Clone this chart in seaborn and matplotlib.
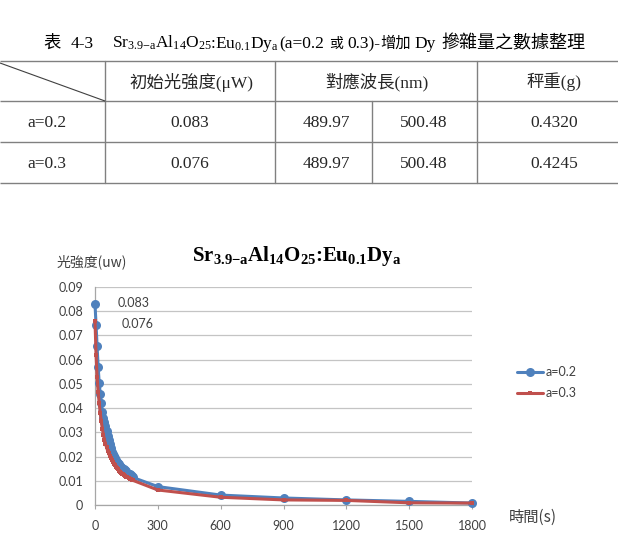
import matplotlib
matplotlib.use("Agg")
import matplotlib.pyplot as plt
import seaborn as sns
import pandas as pd
from matplotlib.lines import Line2D

# ---------------- data ----------------
time_s = [0, 5, 10, 15, 20, 25, 30, 35, 40, 45, 50, 55, 60, 65, 70, 75, 80, 85, 90,
          95, 100, 105, 110, 115, 120, 125, 130, 135, 140, 145, 150, 155, 160, 165,
          170, 175, 180, 300, 600, 900, 1200, 1500, 1800]
a02 = [0.083, 0.0745, 0.0655, 0.057, 0.0505, 0.046, 0.042, 0.0385, 0.036, 0.0342,
       0.0325, 0.0305, 0.0285, 0.0267, 0.025, 0.0235, 0.022, 0.021, 0.0201, 0.0193,
       0.0186, 0.0179, 0.0173, 0.0168, 0.0163, 0.0158, 0.0154, 0.015, 0.0147, 0.0143,
       0.0139, 0.0134, 0.013, 0.0126, 0.0122, 0.0118, 0.0114,
       0.0076, 0.0041, 0.0029, 0.0021, 0.0015, 0.0008]
a03 = [0.076, 0.062, 0.053, 0.0465, 0.042, 0.038, 0.0345, 0.0315, 0.029, 0.027,
       0.0253, 0.0238, 0.0225, 0.0213, 0.0203, 0.0193, 0.0185, 0.0177, 0.017, 0.0164,
       0.0158, 0.0152, 0.0147, 0.0142, 0.0137, 0.0133, 0.0129, 0.0126, 0.0123, 0.012,
       0.0117, 0.0114, 0.0111, 0.0108, 0.0106, 0.0104, 0.0102,
       0.0062, 0.0032, 0.0021, 0.0019, 0.0009, 0.0008]
series_names = ["a=0.2", "a=0.3"]
xticks = [0, 300, 600, 900, 1200, 1500, 1800]
yticks = [0, 0.01, 0.02, 0.03, 0.04, 0.05, 0.06, 0.07, 0.08, 0.09]
ytick_labels = ["0", "0.01", "0.02", "0.03", "0.04", "0.05", "0.06", "0.07", "0.08", "0.09"]
ylabel_text = "光強度(uw)"
xlabel_text = "時間(s)"

table_headers = ["初始光強度(μW)", "對應波長(nm)", "秤重(g)"]
table_row_labels = ["a=0.2", "a=0.3"]
table_initial = ["0.083", "0.076"]
table_wl1 = ["489.97", "489.97"]
table_wl2 = ["500.48", "500.48"]
table_weight = ["0.4320", "0.4245"]

# ---------------- style ----------------
sns.set_theme(style="white")
plt.rcParams["font.family"] = ["Lato", "Noto Sans CJK TC", "DejaVu Sans"]
plt.rcParams["mathtext.fontset"] = "custom"
plt.rcParams["mathtext.rm"] = "Liberation Serif"
plt.rcParams["mathtext.it"] = "Liberation Serif:italic"
plt.rcParams["mathtext.bf"] = "Liberation Serif:bold"
SERIF = ["Liberation Serif", "Noto Sans CJK TC", "DejaVu Sans"]
CJK = ["Noto Sans CJK TC", "DejaVu Sans"]
BLUE = "#4F81BD"
RED = "#C0504D"

W, H = 618, 549
fig = plt.figure(figsize=(W / 100, H / 100), dpi=100)
fig.patch.set_facecolor("white")

# chart axes (pixel box: x 95..472, y 287..505)
ax = fig.add_axes([95 / W, 1 - 505 / H, (472 - 95) / W, (505 - 287) / H])

df = pd.DataFrame({
    "t": time_s * 2,
    "v": a02 + a03,
    "series": [series_names[0]] * len(time_s) + [series_names[1]] * len(time_s),
})
sns.lineplot(data=df[df.series == series_names[0]], x="t", y="v", ax=ax, color=BLUE,
             marker="o", markersize=6.5, markeredgewidth=0, linewidth=2.2,
             errorbar=None, legend=False, clip_on=False, zorder=3)
sns.lineplot(data=df[df.series == series_names[1]], x="t", y="v", ax=ax, color=RED,
             marker="s", markersize=3.2, markeredgewidth=0, linewidth=2.2,
             errorbar=None, legend=False, clip_on=False, zorder=4)

ax.set_xlim(xticks[0], xticks[-1])
ax.set_ylim(yticks[0], yticks[-1])
ax.set_xticks(xticks)
ax.set_xticklabels([str(v) for v in xticks])
ax.set_yticks(yticks)
ax.set_yticklabels(ytick_labels)
ax.set_xlabel("")
ax.set_ylabel("")
ax.set_axisbelow(True)
ax.grid(axis="y", color="#C4C4C4", linewidth=0.9)
ax.grid(axis="x", visible=False)
for s in ["top", "right"]:
    ax.spines[s].set_visible(False)
for s in ["left", "bottom"]:
    ax.spines[s].set_color("#A6A6A6")
    ax.spines[s].set_linewidth(0.9)
ax.tick_params(axis="x", length=3, width=0.8, color="#A6A6A6", pad=8, labelsize=9,
               labelcolor="#404040", direction="out", bottom=True)
ax.tick_params(axis="y", length=0, pad=8.5, labelsize=9, labelcolor="#404040")

# data labels of the first points
ax.annotate(f"{a02[0]:.3f}", xy=(time_s[0], a02[0]), xytext=(23, 1),
            textcoords="offset pixels", va="center", ha="left", fontsize=9, color="#404040")
ax.annotate(f"{a03[0]:.3f}", xy=(time_s[0], a03[0]), xytext=(27, -3),
            textcoords="offset pixels", va="center", ha="left", fontsize=9, color="#404040")

# legend
handles = [Line2D([], [], color=BLUE, marker="o", markersize=6.5, markeredgewidth=0, lw=2.2),
           Line2D([], [], color=RED, marker="s", markersize=3.2, markeredgewidth=0, lw=2.2)]
fig.legend(handles, series_names, loc="center left",
           bbox_to_anchor=(517 / W, 1 - 382.5 / H), frameon=False, fontsize=9,
           handlelength=2.1, handletextpad=0.2, labelspacing=0.7, borderpad=0,
           borderaxespad=0, labelcolor="#404040")

# ---------------- overlay for table and titles (pixel coords) ----------------
ov = fig.add_axes([0, 0, 1, 1])
ov.set_xlim(0, W)
ov.set_ylim(H, 0)
ov.axis("off")
ov.patch.set_alpha(0)

renderer = fig.canvas.get_renderer()


def rich(segs, x, y):
    """segments: strings (with size, family, weight) or numeric gaps in px."""
    x0 = x
    for seg in segs:
        if isinstance(seg, (int, float)):
            x0 += seg
            continue
        s, size, fam, weight = seg
        t = ov.text(x0, y, s, fontsize=size, va="baseline", ha="left",
                    family=fam, fontweight=weight, color="black")
        x0 += t.get_window_extent(renderer).width
    return x0


# table title
FS = 12.5
N = "normal"
tt = [("表", 12.5, CJK, N), 10, ("4-3", FS, SERIF, N), 18,
      (r"$\mathrm{Sr_{3.9{-}a}Al_{14}O_{25}}$", FS, SERIF, N), -1,
      (":", FS, SERIF, N), 0,
      (r"$\mathrm{Eu_{0.1}Dy_{a}}$", FS, SERIF, N), 0,
      ("(a=0.2", FS, SERIF, N), 5, ("或", 10, CJK, N), 5,
      ("0.3)-", FS, SERIF, N), 0, ("增加", 11, CJK, N), 3,
      ("Dy", FS, SERIF, N), 6, ("摻雜量之數據整理", 13, CJK, N)]
rich(tt, 43, 48)

# table lines
LC = "#808080"
LW = 1.0
for yy in [61, 101, 142, 183]:
    ov.plot([0, W], [yy, yy], color=LC, lw=LW, solid_capstyle="butt")
for xx in [105, 275, 477]:
    ov.plot([xx, xx], [61, 183], color=LC, lw=LW)
ov.plot([372, 372], [101, 183], color=LC, lw=LW)
ov.plot([0, 105], [63, 101], color="#404040", lw=0.8)

# header
ov.text(191, 82, table_headers[0], ha="center", va="center", fontsize=FS, family=SERIF)
ov.text(377, 82, table_headers[1], ha="center", va="center", fontsize=FS, family=SERIF)
ov.text(554, 82, table_headers[2], ha="center", va="center", fontsize=FS, family=SERIF)
row_y = [123, 164]
for i in range(2):
    ov.text(47, row_y[i], table_row_labels[i], ha="center", va="center", fontsize=FS, family=SERIF)
    ov.text(190, row_y[i], table_initial[i], ha="center", va="center", fontsize=FS, family=SERIF)
    ov.text(326, row_y[i], table_wl1[i], ha="center", va="center", fontsize=FS, family=SERIF)
    ov.text(424, row_y[i], table_wl2[i], ha="center", va="center", fontsize=FS, family=SERIF)
    ov.text(554, row_y[i], table_weight[i], ha="center", va="center", fontsize=FS, family=SERIF)

# chart title
CT = 15
B = "bold"
ct = [(r"$\mathbf{Sr_{3.9{-}a}Al_{14}O_{25}}$", CT, SERIF, B), -1,
      (":", CT, SERIF, B), 0,
      (r"$\mathbf{Eu_{0.1}Dy_{a}}$", CT, SERIF, B)]
rich(ct, 192, 261)

# axis labels
ov.text(57, 262, ylabel_text, ha="left", va="center", fontsize=10, family=CJK, color="#404040")
ov.text(509, 517, xlabel_text, ha="left", va="center", fontsize=11, family=CJK, color="#404040")

fig.savefig("out.png", dpi=100, facecolor="white")
